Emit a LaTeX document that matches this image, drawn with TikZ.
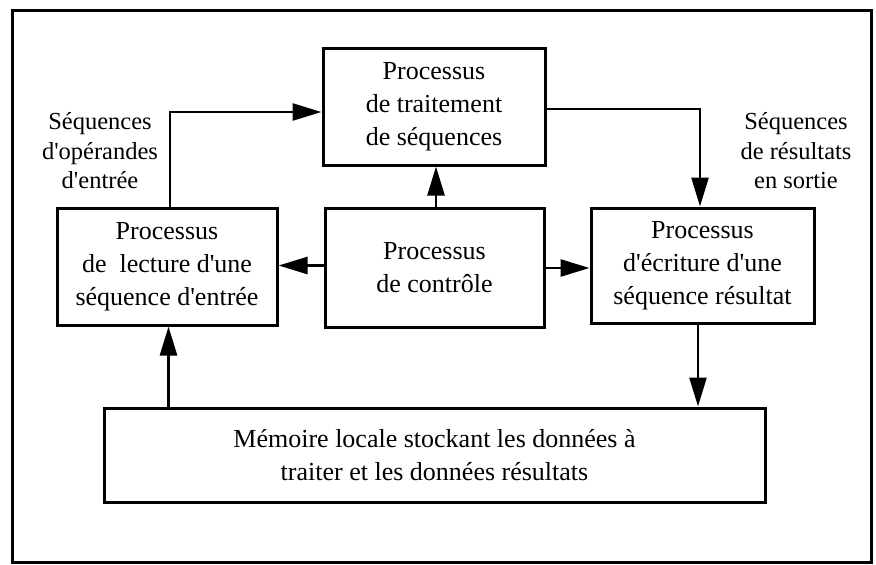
\documentclass[tikz,border=0pt]{standalone}
\usepackage{fontspec}
\setmainfont{Liberation Serif}[Ligatures=TeXOff]
\usetikzlibrary{arrows.meta}
\begin{document}
\begin{tikzpicture}[x=1pt,y=-1pt,
  box/.style={draw, line width=3pt, align=center, inner sep=0pt,
    font=\fontsize{26}{33}\selectfont},
  arr/.style={line width=2.6pt, -{Triangle[length=29pt,width=17pt]}},
  lab/.style={align=center, font=\fontsize{24.5}{29.5}\selectfont}]
\useasboundingbox (0,0) rectangle (876,565);
\draw[line width=3pt] (12,10) rectangle (871,562);
\node[box, minimum width=222pt, minimum height=117pt] (top) at (434,106.5)
  {Processus\\de traitement\\de séquences};
\node[box, minimum width=220pt, minimum height=117pt] (left) at (167,266.5)
  {Processus\\de \ lecture d'une\\séquence d'entrée};
\node[box, minimum width=219pt, minimum height=119pt] (ctrl) at (434.5,267.5)
  {Processus\\de contrôle};
\node[box, minimum width=223pt, minimum height=115pt] (right) at (702.5,265.5)
  {Processus\\d'écriture d'une\\séquence résultat};
\node[box, minimum width=661pt, minimum height=94pt] (mem) at (434.5,455)
  {Mémoire locale stockant les données à\\traiter et les données résultats};
\node[lab] (lin) at (100,151) {Séquences\\d'opérandes\\d'entrée};
\node[lab] (lout) at (796,151) {Séquences\\de résultats\\en sortie};
\draw[arr] ([xshift=3pt]left.north) |- ([yshift=-5.5pt]top.west);
\draw[arr] ([yshift=-2.5pt]top.east) -| ([xshift=-2.5pt]right.north);
\draw[arr] ([xshift=1.5pt]ctrl.north) -- ([xshift=1.5pt]ctrl.north |- top.south);
\draw[arr] ([yshift=2pt]ctrl.west) -- ([yshift=2pt]ctrl.west -| left.east);
\draw[arr] ([yshift=-0.5pt]ctrl.east) -- ([yshift=-0.5pt]ctrl.east -| right.west);
\draw[arr] ([xshift=1.5pt]left.south |- mem.north) -- ([xshift=1.5pt]left.south);
\draw[arr] ([xshift=-4.5pt]right.south) -- ([xshift=-4.5pt]right.south |- mem.north);
\end{tikzpicture}
\end{document}
